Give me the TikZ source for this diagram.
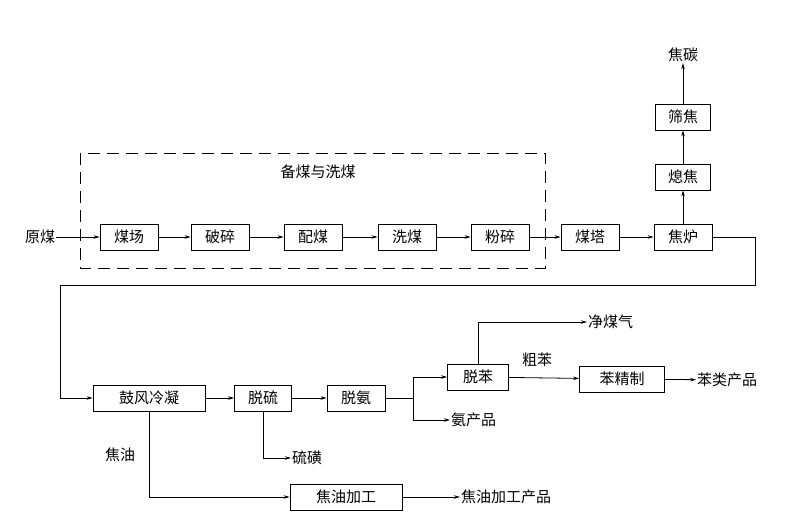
\documentclass[tikz,border=0pt]{standalone}
\usepackage{fontspec}
\newfontfamily\cjk{Noto Sans CJK SC}
\usetikzlibrary{arrows.meta}
\begin{document}
\begin{tikzpicture}[x=1pt,y=-1pt,
  every node/.style={font=\cjk\fontsize{15}{15}\selectfont},
  box/.style={draw,thick,minimum height=26pt,inner sep=1pt},
  lab/.style={inner sep=1pt},
  ar/.style={-{Stealth[length=6pt,width=3.5pt]},thick}]
\useasboundingbox (0,0) rectangle (794,527);
\draw[thick,dash pattern=on 12pt off 7pt] (80,153) rectangle (545,268);
\node[lab] (t) at (318,172) {备煤与洗煤};
\node[lab] (yuan) at (40,237) {原煤};
\node[box,minimum width=58pt] (a1) at (129,237) {煤场};
\node[box,minimum width=58pt] (a2) at (220,237) {破碎};
\node[box,minimum width=58pt] (a3) at (313,237) {配煤};
\node[box,minimum width=58pt] (a4) at (407,237) {洗煤};
\node[box,minimum width=58pt] (a5) at (500,237) {粉碎};
\node[box,minimum width=58pt] (a6) at (590,237) {煤塔};
\node[box,minimum width=58pt] (a7) at (683,237) {焦炉};
\node[box,minimum width=55pt] (x1) at (683,177) {熄焦};
\node[box,minimum width=55pt] (x2) at (683,117) {筛焦};
\node[lab] (jt) at (683,55) {焦碳};
\foreach \p/\q in {yuan/a1,a1/a2,a2/a3,a3/a4,a4/a5,a5/a6,a6/a7} \draw[ar] (\p) -- (\q);
\draw[ar] (a7) -- (x1); \draw[ar] (x1) -- (x2); \draw[ar] (x2) -- (jt);
\node[box,minimum width=112pt] (b1) at (149,398) {鼓风冷凝};
\node[box,minimum width=57pt] (b2) at (263,398) {脱硫};
\node[box,minimum width=58pt] (b3) at (356,398) {脱氨};
\node[box,minimum width=61pt] (b4) at (478,377) {脱苯};
\node[box,minimum width=85pt] (b5) at (622,379) {苯精制};
\node[box,minimum width=112pt] (b6) at (346,497) {焦油加工};
\draw[ar] (a7.east) -- (755,237) -- (755,285) -- (60,285) |- (b1.west);
\draw[ar] (b1) -- (b2); \draw[ar] (b2) -- (b3);
\node[lab,anchor=west] (an) at (450,420) {氨产品};
\node[lab,anchor=west] (jm) at (587,322) {净煤气};
\node[lab,anchor=west] (bl) at (696,380) {苯类产品};
\node[lab,anchor=west] (lh) at (291,458) {硫磺};
\node[lab,anchor=west] (jy) at (460,497) {焦油加工产品};
\node[lab] at (537,360) {粗苯};
\node[lab] at (120,455) {焦油};
\draw[ar] (b3.east) -- (413,398) |- (b4.west);
\draw[ar] (413,398) |- (an.west);
\draw[ar] (b4.north) |- (jm.west);
\draw[ar] (b4) -- (b5);
\draw[ar] (b5) -- (bl);
\draw[ar] (b2.south) |- (lh.west);
\draw[ar] (b1.south) |- (b6.west);
\draw[ar] (b6) -- (jy);
\end{tikzpicture}
\end{document}
